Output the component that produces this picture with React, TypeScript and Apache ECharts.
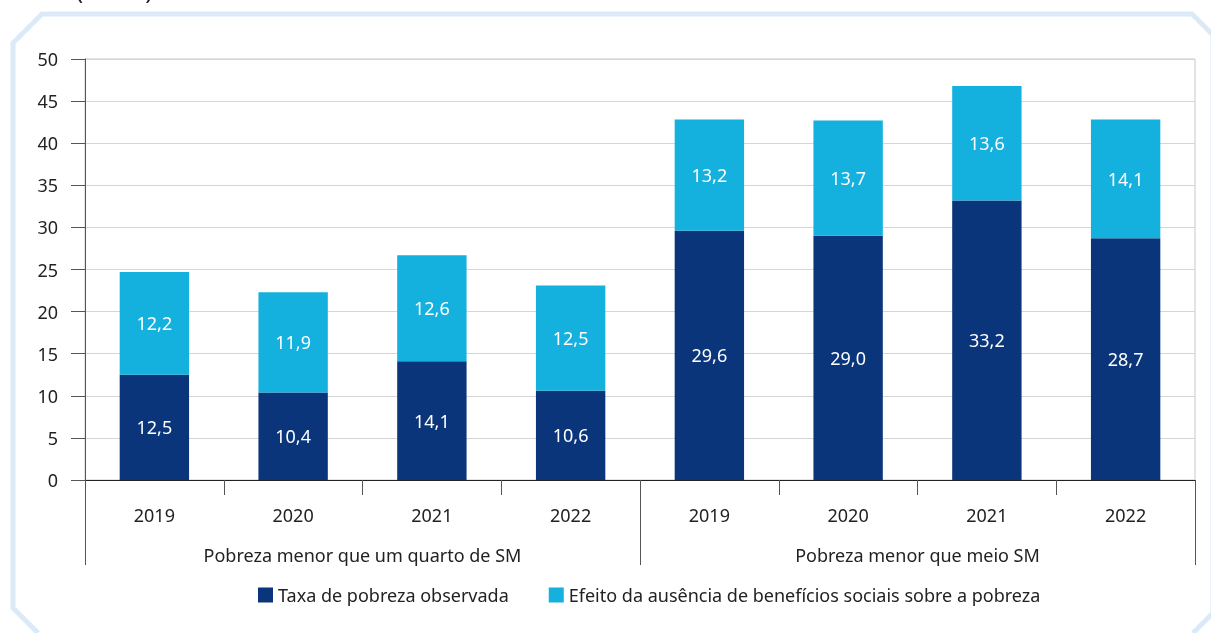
import React, { useEffect, useRef } from "react";
import * as echarts from "echarts";

const years = ["2019", "2020", "2021", "2022", "2019", "2020", "2021", "2022"];
const groups = ["Pobreza menor que um quarto de SM", "Pobreza menor que meio SM"];
const observed = [12.5, 10.4, 14.1, 10.6, 29.6, 29.0, 33.2, 28.7];
const effect = [12.2, 11.9, 12.6, 12.5, 13.2, 13.7, 13.6, 14.1];
const seriesNames = [
  "Taxa de pobreza observada",
  "Efeito da ausência de benefícios sociais sobre a pobreza",
];

const FONT = "Noto Sans";
const FS = 18;
const fmt = (p: any) => Number(p.value).toFixed(1).replace(".", ",");

export default function App() {
  const ref = useRef<HTMLDivElement>(null);
  useEffect(() => {
    if (!ref.current) return;
    const chart = echarts.init(ref.current, undefined, { renderer: "svg" });
    chart.setOption({
      animation: false,
      textStyle: { fontFamily: FONT },
      grid: {
        left: 85,
        right: 16,
        top: 59,
        bottom: 153,
        show: true,
        borderColor: "#c8c8c8",
        borderWidth: 1,
      },
      legend: {
        bottom: 24,
        left: 253,
        itemWidth: 15,
        itemHeight: 15,
        itemGap: 40,
        icon: "rect",
        textStyle: { fontFamily: FONT, fontSize: FS, color: "#222" },
        data: seriesNames,
      },
      xAxis: [
        {
          type: "category",
          data: years,
          axisLine: { lineStyle: { color: "#222", width: 1 } },
          axisTick: { show: true, length: 15, lineStyle: { color: "#555" } },
          axisLabel: { margin: 26, fontSize: FS, color: "#222", fontFamily: FONT },
        },
        {
          type: "category",
          data: groups,
          position: "bottom",
          axisLine: { show: false },
          axisTick: { show: true, length: 85, lineStyle: { color: "#555" } },
          axisLabel: { margin: 66, fontSize: FS, color: "#222", fontFamily: FONT },
        },
      ],
      yAxis: {
        type: "value",
        min: 0,
        max: 50,
        interval: 5,
        axisLine: { show: true, lineStyle: { color: "#555" } },
        axisTick: { show: true, length: 14, lineStyle: { color: "#555" } },
        axisLabel: { margin: 27, fontSize: FS, color: "#222", fontFamily: FONT },
        splitLine: { lineStyle: { color: "#d6d6d6" } },
      },
      series: [
        {
          name: seriesNames[0],
          type: "bar",
          stack: "t",
          barWidth: "50%",
          data: observed,
          itemStyle: { color: "#0a357a" },
          label: {
            show: true,
            position: "inside",
            color: "#fff",
            fontSize: FS,
            fontFamily: FONT,
            formatter: fmt,
          },
        },
        {
          name: seriesNames[1],
          type: "bar",
          stack: "t",
          barWidth: "50%",
          data: effect,
          itemStyle: { color: "#14b0de" },
          label: {
            show: true,
            position: "inside",
            color: "#fff",
            fontSize: FS,
            fontFamily: FONT,
            formatter: fmt,
          },
        },
      ],
      graphic: [
        {
          type: "polyline",
          silent: true,
          shape: {
            points: [
              [38, 633],
              [13, 608],
              [13, 43],
              [42, 14],
              [1192, 14],
              [1213, 35],
              [1213, 613],
              [1193, 633],
            ],
          },
          style: { stroke: "#dce9f7", lineWidth: 5, fill: null },
        },
        {
          type: "text",
          left: 76,
          top: -23,
          style: { text: "(Em %)", fontSize: 24, fontFamily: FONT, fill: "#222" },
        },
      ],
    });
    return () => chart.dispose();
  }, []);
  return (
    <div
      ref={ref}
      style={{ position: "fixed", left: 0, top: 0, width: 1211, height: 633 }}
    />
  );
}
